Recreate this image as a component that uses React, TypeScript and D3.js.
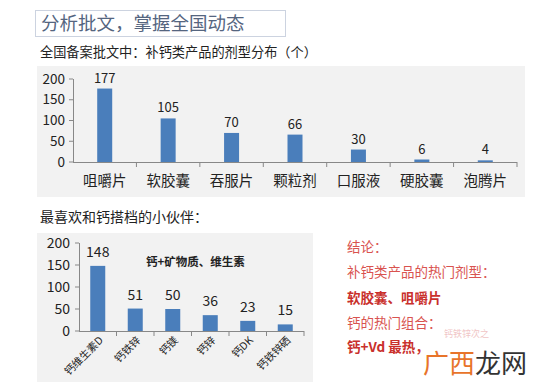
import React from "react";
import * as d3 from "d3";

const dosageForms = ["咀嚼片", "软胶囊", "吞服片", "颗粒剂", "口服液", "硬胶囊", "泡腾片"];
const dosageCounts = [177, 105, 70, 66, 30, 6, 4];
const comboNames = ["钙维生素D", "钙铁锌", "钙镁", "钙锌", "钙DK", "钙铁锌硒"];
const comboCounts = [148, 51, 50, 36, 23, 15];
const yTicks = [0, 50, 100, 150, 200];

const FONT = "'Noto Sans CJK SC', 'Noto Sans', sans-serif";
const BAR = "#4a7ebb";

export default function App() {
  // chart 1
  const x1 = d3.scaleBand<string>().domain(dosageForms).range([73, 517]);
  const y1 = d3.scaleLinear().domain([0, 200]).range([162, 79]);
  // chart 2
  const x2 = d3.scaleBand<string>().domain(comboNames).range([79, 304]);
  const y2 = d3.scaleLinear().domain([0, 200]).range([331, 243]);
  const bw = 15;

  return (
    <svg
      width={553}
      height={384}
      style={{ position: "absolute", left: 0, top: 0, fontFamily: FONT }}
    >
      <rect x={0} y={0} width={553} height={384} fill="#ffffff" />
      {/* title box */}
      <rect x={35.5} y={10.5} width={250} height={26} fill="#ffffff" stroke="#ccd3e0" />
      <text x={41} y={30} fontSize={18.5} fill="#55657f">分析批文，掌握全国动态</text>
      <text x={40} y={57} fontSize={13.2} fill="#222">全国备案批文中：补钙类产品的剂型分布（个）</text>

      {/* chart 1 panel */}
      <rect x={37} y={66} width={488} height={131} fill="#f2f2f2" />
      {yTicks.map((t) => (
        <g key={"a" + t}>
          <line x1={69} x2={73} y1={y1(t)} y2={y1(t)} stroke="#888" />
          <text x={65} y={y1(t)} dy="0.35em" textAnchor="end" fontSize={13.5} fill="#222">{t}</text>
        </g>
      ))}
      <line x1={73.5} x2={73.5} y1={y1(200)} y2={y1(0)} stroke="#888" />
      <line x1={73} x2={517} y1={y1(0) + 0.5} y2={y1(0) + 0.5} stroke="#888" />
      {dosageForms.map((c, i) => (
        <g key={c}>
          <line x1={(x1(c) as number) + x1.bandwidth()} x2={(x1(c) as number) + x1.bandwidth()} y1={y1(0)} y2={y1(0) + 5} stroke="#888" />
          <rect
            x={(x1(c) as number) + x1.bandwidth() / 2 - bw / 2}
            y={y1(dosageCounts[i])}
            width={bw}
            height={y1(0) - y1(dosageCounts[i])}
            fill={BAR}
          />
          <text x={(x1(c) as number) + x1.bandwidth() / 2} y={y1(dosageCounts[i]) - 6} textAnchor="middle" fontSize={13} fill="#222">{dosageCounts[i]}</text>
          <text x={(x1(c) as number) + x1.bandwidth() / 2} y={186} textAnchor="middle" fontSize={14.5} fill="#222">{c}</text>
        </g>
      ))}

      <text x={40} y={222} fontSize={14} fill="#222">最喜欢和钙搭档的小伙伴：</text>

      {/* chart 2 panel */}
      <rect x={37} y={233} width={276} height={149} fill="#f2f2f2" />
      {yTicks.map((t) => (
        <g key={"b" + t}>
          <line x1={75} x2={79} y1={y2(t)} y2={y2(t)} stroke="#888" />
          <text x={70} y={y2(t)} dy="0.35em" textAnchor="end" fontSize={14} fill="#222">{t}</text>
        </g>
      ))}
      <line x1={79.5} x2={79.5} y1={y2(200)} y2={y2(0)} stroke="#888" />
      <line x1={79} x2={304} y1={y2(0) + 0.5} y2={y2(0) + 0.5} stroke="#888" />
      {comboNames.map((c, i) => {
        const cx = (x2(c) as number) + x2.bandwidth() / 2;
        return (
          <g key={c}>
            <line x1={(x2(c) as number) + x2.bandwidth()} x2={(x2(c) as number) + x2.bandwidth()} y1={y2(0)} y2={y2(0) + 5} stroke="#888" />
            <rect x={cx - bw / 2} y={y2(comboCounts[i])} width={bw} height={y2(0) - y2(comboCounts[i])} fill={BAR} />
            <text x={cx} y={y2(comboCounts[i]) - 9} textAnchor="middle" fontSize={14} fill="#222">{comboCounts[i]}</text>
            <text
              transform={`translate(${cx + 6},${y2(0) + 10}) rotate(-45)`}
              textAnchor="end"
              fontSize={10.5}
              fill="#222"
            >
              {c}
            </text>
          </g>
        );
      })}
      <text x={146} y={266} fontSize={11.5} fontWeight="bold" fill="#222">钙+矿物质、维生素</text>

      {/* conclusion */}
      <text x={347} y={252} fontSize={13.5} fill="#d9534f">结论：</text>
      <text x={347} y={277} fontSize={13.5} fill="#d9534f">补钙类产品的热门剂型：</text>
      <text x={347} y={303} fontSize={13.5} fontWeight="bold" fill="#c9302c">软胶囊、咀嚼片</text>
      <text x={347} y={328} fontSize={13.5} fill="#d9534f">钙的热门组合：</text>
      <text x={347} y={352} fontSize={13.5} fontWeight="bold" fill="#c9302c">钙+Vd 最热，</text>
      <text x={444} y={337} fontSize={9} fill="#e8a0a0" opacity={0.6}>钙铁锌次之</text>
      {/* watermark */}
      <text x={423} y={373} fontSize={26}>
        <tspan fill="#e8742a">广西</tspan>
        <tspan fill="#333">龙网</tspan>
      </text>
    </svg>
  );
}
